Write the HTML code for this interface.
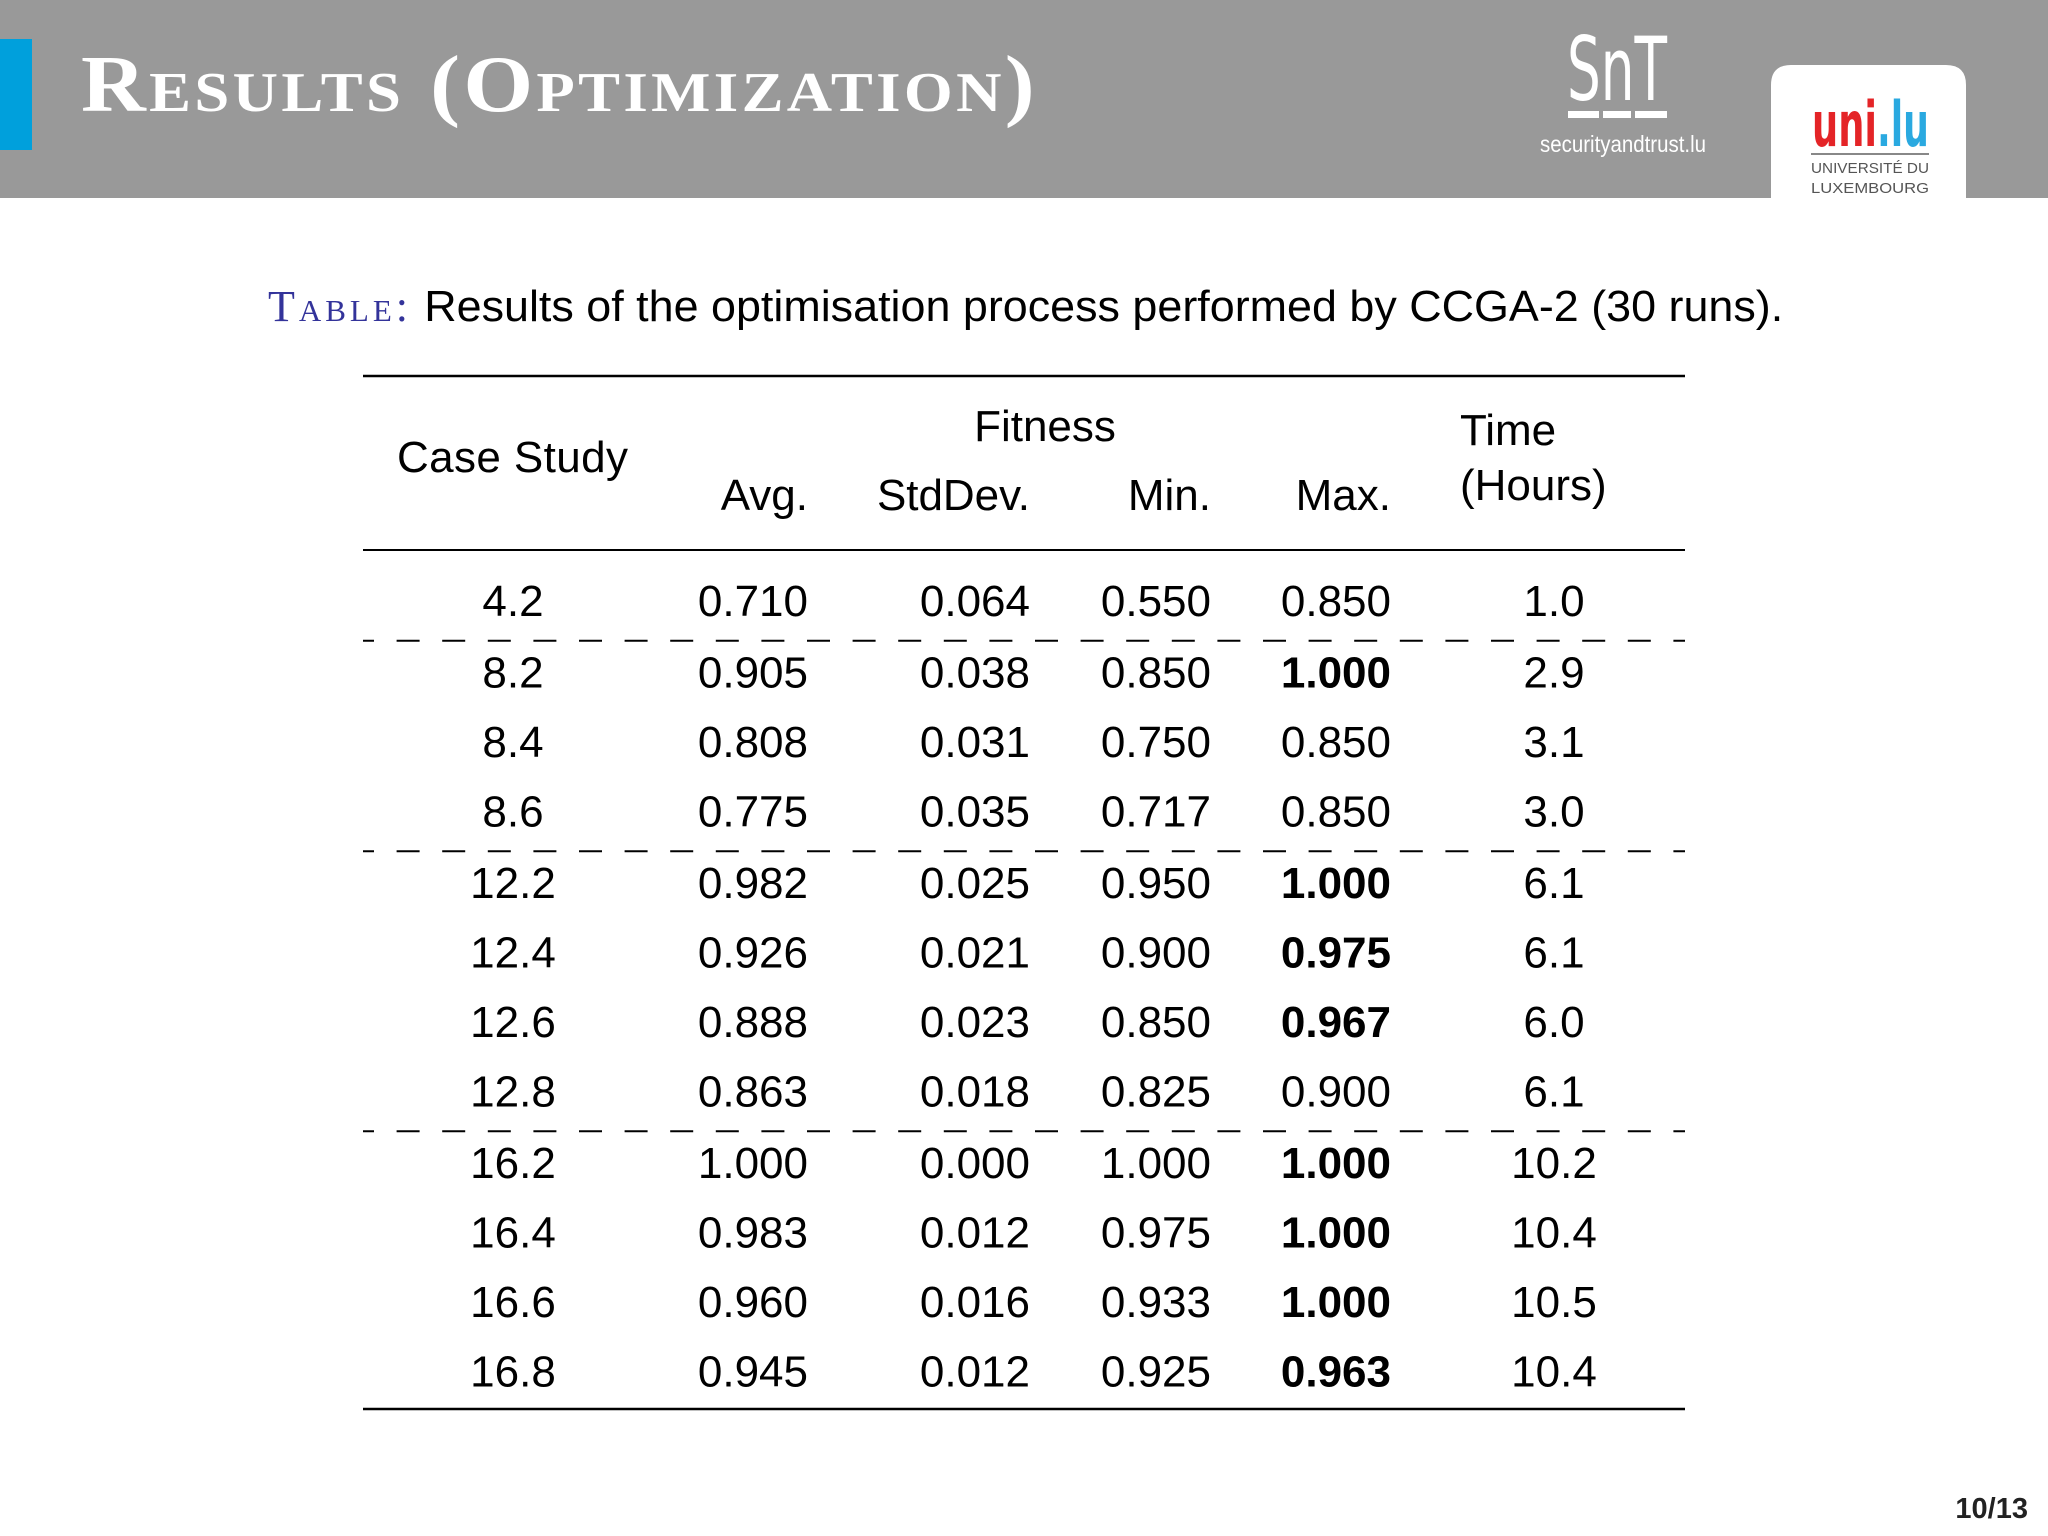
<!DOCTYPE html>
<html><head><meta charset="utf-8"><style>
html,body{margin:0;padding:0;background:#fff;}
svg{display:block;font-family:"Liberation Sans",sans-serif;}
</style></head><body>
<svg width="2048" height="1536" viewBox="0 0 2048 1536">
<rect x="0" y="0" width="2048" height="198" fill="#999999"/>
<rect x="0" y="39" width="32" height="111" fill="#00a0dc"/>
<text x="81" y="111" fill="#fff" font-family="Liberation Serif,serif" font-weight="bold" font-size="80" style="font-variant:small-caps;letter-spacing:3px" textLength="957" lengthAdjust="spacingAndGlyphs">Results (Optimization)</text>
<g>
<text x="1617" y="100" fill="#fff" font-size="88" text-anchor="middle" font-family="DejaVu Sans Condensed,Liberation Sans Narrow,sans-serif" textLength="100" lengthAdjust="spacingAndGlyphs">SnT</text>
<rect x="1568" y="111" width="31" height="7" fill="#fff"/><rect x="1603" y="111" width="28" height="7" fill="#fff"/><rect x="1635" y="111" width="32" height="7" fill="#fff"/>
<text x="1540" y="152" fill="#fff" font-size="23" textLength="166" lengthAdjust="spacingAndGlyphs">securityandtrust.lu</text>
</g>
<g>
<path d="M1771 198 V85 Q1771 65 1791 65 H1946 Q1966 65 1966 85 V198 Z" fill="#fff"/>
<text x="1812" y="146" fill="#e42427" font-size="62" font-weight="bold" font-family="DejaVu Sans Condensed,sans-serif" textLength="65" lengthAdjust="spacingAndGlyphs">uni</text>
<text x="1877" y="146" fill="#2aa9e0" font-size="62" font-weight="bold" font-family="DejaVu Sans Condensed,sans-serif" textLength="52" lengthAdjust="spacingAndGlyphs">.lu</text>
<rect x="1811" y="153" width="118" height="2" fill="#888"/>
<text x="1811" y="173" fill="#555" font-size="15" textLength="118" lengthAdjust="spacingAndGlyphs">UNIVERSITÉ DU</text>
<text x="1811" y="193" fill="#555" font-size="15" textLength="118" lengthAdjust="spacingAndGlyphs">LUXEMBOURG</text>
</g>
<text x="268" y="321" font-size="44" fill="#000"><tspan fill="#33339a" font-family="Liberation Serif,serif" style="font-variant:small-caps" textLength="140">Table:</tspan> <tspan textLength="1359" lengthAdjust="spacingAndGlyphs">Results of the optimisation process performed by CCGA-2 (30 runs).</tspan></text>
<g id="tbl" font-size="44" fill="#000">
<line x1="363" y1="376" x2="1685" y2="376" stroke="#000" stroke-width="2.5"/>
<line x1="363" y1="550" x2="1685" y2="550" stroke="#000" stroke-width="2"/>
<line x1="363" y1="1409" x2="1685" y2="1409" stroke="#000" stroke-width="2.5"/>
<text x="397" y="472" textLength="231">Case Study</text>
<text x="1045" y="441" text-anchor="middle">Fitness</text>
<text x="808" y="510" text-anchor="end">Avg.</text>
<text x="877" y="510" textLength="153">StdDev.</text>
<text x="1211" y="510" text-anchor="end">Min.</text>
<text x="1391" y="510" text-anchor="end">Max.</text>
<text x="1460" y="445">Time</text>
<text x="1460" y="500">(Hours)</text>
</g>
<text x="2028" y="1518" text-anchor="end" font-size="29" font-weight="bold" fill="#222">10/13</text>
</svg>
<script>
const cases=["4.2","8.2","8.4","8.6","12.2","12.4","12.6","12.8","16.2","16.4","16.6","16.8"];
const avg=["0.710","0.905","0.808","0.775","0.982","0.926","0.888","0.863","1.000","0.983","0.960","0.945"];
const stddev=["0.064","0.038","0.031","0.035","0.025","0.021","0.023","0.018","0.000","0.012","0.016","0.012"];
const mins=["0.550","0.850","0.750","0.717","0.950","0.900","0.850","0.825","1.000","0.975","0.933","0.925"];
const maxs=["0.850","1.000","0.850","0.850","1.000","0.975","0.967","0.900","1.000","1.000","1.000","0.963"];
const boldMax=[false,true,false,false,true,true,true,false,true,true,true,true];
const times=["1.0","2.9","3.1","3.0","6.1","6.1","6.0","6.1","10.2","10.4","10.5","10.4"];
const groupBreaks=[1,4,8];
const NS="http://www.w3.org/2000/svg";
const g=document.getElementById('tbl');
const rowY=i=>{const gi=groupBreaks.filter(b=>b<=i).length;return 616+i*69.5+gi*2;};
function t(x,y,s,anchor,bold,name){
 const e=document.createElementNS(NS,'text');
 e.setAttribute('x',x);e.setAttribute('y',y);e.setAttribute('text-anchor',anchor);
 if(bold)e.setAttribute('font-weight','bold');
 e.textContent=s;
 
 
 g.appendChild(e);
}
cases.forEach((c,i)=>{
 const y=rowY(i);
 t(513,y,c,'middle',false,'cell-case');
 t(808,y,avg[i],'end',false,'cell-avg');
 t(1030,y,stddev[i],'end',false,'cell-stddev');
 t(1211,y,mins[i],'end',false,'cell-min');
 t(1391,y,maxs[i],'end',boldMax[i],'cell-max');
 t(1554,y,times[i],'middle',false,'cell-time');
});
groupBreaks.forEach(b=>{
 const y=(rowY(b-1)+rowY(b))/2-11;
 const l=document.createElementNS(NS,'line');
 l.setAttribute('x1',363);l.setAttribute('x2',1685);l.setAttribute('y1',y);l.setAttribute('y2',y);
 l.setAttribute('stroke','#000');l.setAttribute('stroke-width','2');l.setAttribute('stroke-dasharray','23 22.6');l.setAttribute('stroke-dashoffset','12');
 
 
 g.appendChild(l);
});
</script>
</body></html>
